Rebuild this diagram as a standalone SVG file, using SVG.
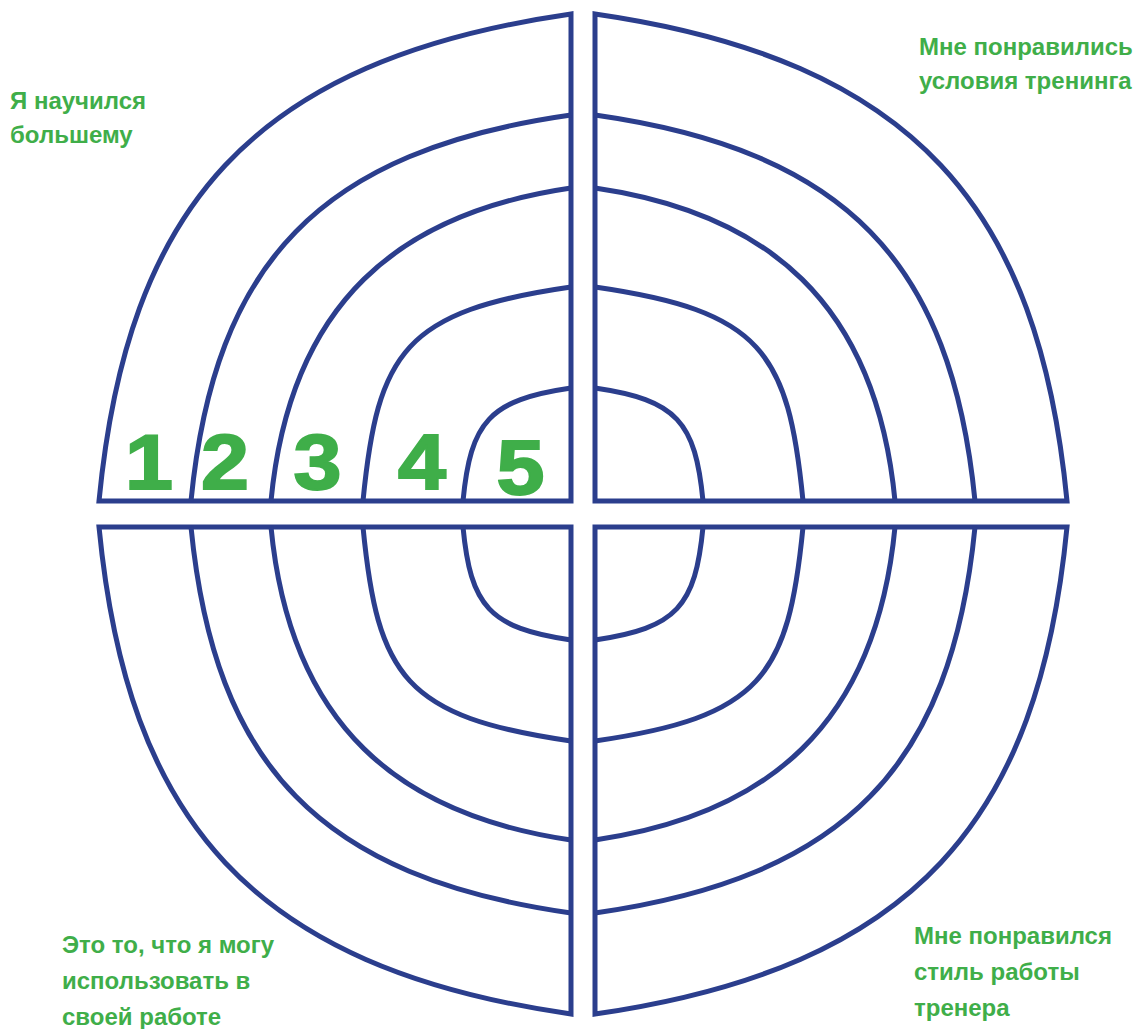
<svg xmlns="http://www.w3.org/2000/svg" xmlns:xlink="http://www.w3.org/1999/xlink" width="1134" height="1029" viewBox="0 0 1134 1029">
<style>
.ln{fill:none;stroke:#2B3E8D;stroke-width:5;stroke-linejoin:miter;stroke-miterlimit:10}
.lbl{font-family:"Liberation Sans",Arial,Helvetica,sans-serif;font-weight:bold;font-size:24px;fill:#3FAE49}
.num{font-family:"Liberation Sans",Arial,Helvetica,sans-serif;font-weight:bold;font-size:77px;fill:#3FAE49;stroke:#3FAE49;stroke-width:2;text-anchor:middle}
</style>
<defs>
<g id="quad">
<path class="ln" d="M571,14 L571,501 L99,501 C127.3,208.8 250,60.4 571,14 Z"/>
<path class="ln" d="M191,501 C214.6,261.7 320.2,150.7 571,115"/>
<path class="ln" d="M271,501 C290.1,301.6 400,213 571,188"/>
<path class="ln" d="M363,501 C377.6,351.2 404.6,311 571,287"/>
<path class="ln" d="M463,501 C470.6,421.9 488.9,400 571,388"/>
</g>
</defs>
<g id="connectors"></g>
<g id="quadrant-top-left"><use xlink:href="#quad" href="#quad"/></g>
<g id="quadrant-top-right"><use xlink:href="#quad" href="#quad" transform="matrix(-1 0 0 1 1166 0)"/></g>
<g id="quadrant-bottom-left"><use xlink:href="#quad" href="#quad" transform="matrix(1 0 0 -1 0 1028)"/></g>
<g id="quadrant-bottom-right"><use xlink:href="#quad" href="#quad" transform="matrix(-1 0 0 -1 1166 1028)"/></g>
<g id="scale">
<text class="num" transform="translate(149,489) scale(1.12,1)" x="0" y="0">1</text>
<text class="num" transform="translate(225,489) scale(1.12,1)" x="0" y="0">2</text>
<text class="num" transform="translate(317.5,489) scale(1.12,1)" x="0" y="0">3</text>
<text class="num" transform="translate(422,489) scale(1.12,1)" x="0" y="0">4</text>
<text class="num" transform="translate(520.5,494) scale(1.12,1)" x="0" y="0">5</text>
</g>
<g id="label-top-left">
<text class="lbl" x="10" y="109">Я научился</text>
<text class="lbl" x="10" y="143">большему</text>
</g>
<g id="label-top-right">
<text class="lbl" x="919" y="55">Мне понравились</text>
<text class="lbl" x="919" y="89">условия тренинга</text>
</g>
<g id="label-bottom-left">
<text class="lbl" x="62" y="953">Это то, что я могу</text>
<text class="lbl" x="62" y="989">использовать в</text>
<text class="lbl" x="62" y="1025">своей работе</text>
</g>
<g id="label-bottom-right">
<text class="lbl" x="914" y="944">Мне понравился</text>
<text class="lbl" x="914" y="980">стиль работы</text>
<text class="lbl" x="914" y="1016">тренера</text>
</g>
</svg>
